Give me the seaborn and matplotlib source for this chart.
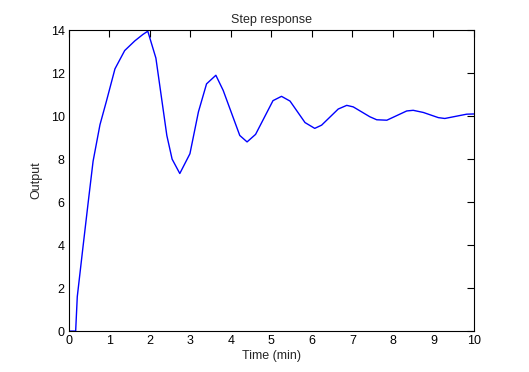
import matplotlib
matplotlib.use("Agg")
import matplotlib.pyplot as plt
import seaborn as sns

# vertices
t = [0, 0.17, 0.21, 0.35, 0.48, 0.60, 0.77, 0.93, 1.14, 1.38, 1.63, 1.83, 1.95,
     2.15, 2.42, 2.55, 2.74, 2.99, 3.20, 3.40, 3.63, 3.81, 4.22, 4.40, 4.61,
     5.04, 5.25, 5.46, 5.83, 6.07, 6.24, 6.65, 6.86, 7.02, 7.43, 7.60, 7.85,
     8.34, 8.50, 8.75, 9.12, 9.28, 9.82, 10.0]
y = [0, 0, 1.6, 3.9, 6.0, 7.9, 9.6, 10.7, 12.2, 13.05, 13.5, 13.8, 13.95,
     12.7, 9.1, 8.0, 7.33, 8.25, 10.2, 11.5, 11.9, 11.2, 9.1, 8.8, 9.15,
     10.72, 10.92, 10.7, 9.7, 9.43, 9.58, 10.33, 10.5, 10.43, 9.97, 9.83, 9.81,
     10.24, 10.27, 10.17, 9.93, 9.89, 10.09, 10.1]

xticks = list(range(0, 11))
yticks = list(range(0, 15, 2))

sns.set_style("white")
plt.rcParams['font.family'] = ['Liberation Sans', 'DejaVu Sans']

fig = plt.figure(figsize=(5.29, 3.72), dpi=100)
ax = fig.add_axes([0.130, 0.110, 0.766, 0.809])

sns.lineplot(x=t, y=y, ax=ax, color='blue', linewidth=1,
             sort=False, estimator=None)

ax.set_xlim(0, 10)
ax.set_ylim(0, 14)
ax.set_xticks(xticks)
ax.set_yticks(yticks)
ax.tick_params(direction='in', length=5, width=0.8, top=True, right=True,
               labelsize=9, colors='black', pad=3)
for s in ax.spines.values():
    s.set_visible(True)
    s.set_color('black')
    s.set_linewidth(0.8)

ax.set_xlabel("Time (min)", fontsize=9, labelpad=2)
ax.set_ylabel("Output", fontsize=9, labelpad=6)
ax.set_title("Step response", fontsize=9, pad=5)

fig.savefig("out.png", dpi=100)
